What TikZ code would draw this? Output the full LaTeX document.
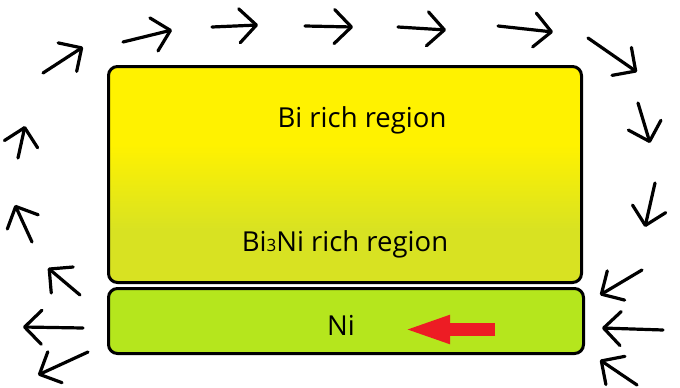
\documentclass[tikz,border=0pt]{standalone}
\usepackage{fontspec}
\setmainfont{Open Sans}
\usetikzlibrary{arrows.meta}

\definecolor{biyellow}{RGB}{255,242,0}
\definecolor{binigreen}{RGB}{216,226,34}
\definecolor{nigreen}{RGB}{181,230,29}
\definecolor{flowred}{RGB}{237,28,36}

\pgfdeclareverticalshading{bilayer}{100bp}{color(0bp)=(binigreen); color(37bp)=(binigreen);
  color(57bp)=(biyellow); color(100bp)=(biyellow)}

\begin{document}
\begin{tikzpicture}[x=1pt, y=-1pt,
    layer/.style={draw=black, line width=3pt, rounded corners=9pt, inner sep=0pt},
    label/.style={anchor=base, font=\fontsize{27.5}{27.5}\selectfont, text=black},
    flow/.style={line width=3.2pt, line cap=round, -{Straight Barb[length=17pt, width=34pt, round]}}]
  \useasboundingbox (0,0) rectangle (680,388);

  % sample layers
  \node[layer, shading=bilayer, minimum width=473pt, minimum height=216pt] (bi) at (345,174.5) {};
  \node[layer, fill=nigreen, minimum width=475pt, minimum height=65pt] (ni) at (346,321) {};

  \node[label] (bitxt) at (362,127) {Bi rich region};
  \node[label] (bi3nitxt) at (345,251) {Bi{\fontsize{17}{17}\selectfont 3}Ni rich region};
  \node[label] (nitxt) at (341,335) {Ni};

  % motion of the melt
  \coordinate (rs) at (495,329.5);
  \coordinate (re) at (402,329.5);
  \draw[flowred, line width=13pt, -{Triangle[length=48pt, width=25pt]}] (rs) -- (re);

  % flow around the sample
  \foreach \sx/\sy/\ex/\ey in {43/73/83/47, 123/42/172/30, 212/27/258/25, 305/26/353/27,
      398/27/446/30, 498/26/553/32, 588/38/637/72, 638/103/650/143, 655/183/645/227,
      642/270/600/295, 663/330/602/328, 637/385/600/360,
      18/158/25/126, 32/242/15/205, 80/295/48/268, 83/328/23/327, 88/352/38/375}
    \draw[flow] (\sx,\sy) -- (\ex,\ey);
\end{tikzpicture}
\end{document}
